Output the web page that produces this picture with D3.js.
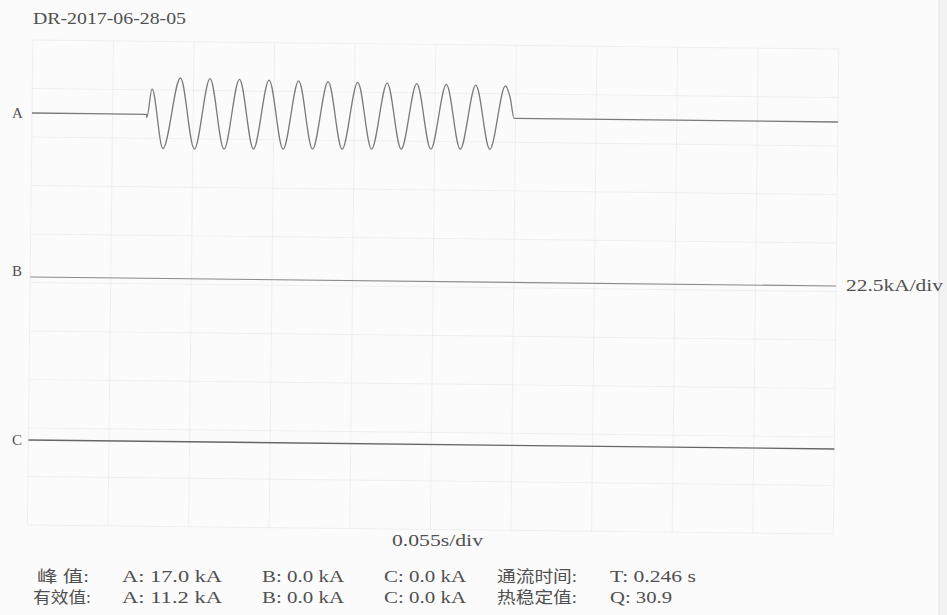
<!DOCTYPE html>
<html>
<head>
<meta charset="utf-8">
<script src="https://cdn.jsdelivr.net/npm/d3@7"></script>
<style>
  html, body { margin: 0; padding: 0; background: #fbfbfb; }
  svg { display: block; }
  text { fill: #505050; font-family: "Liberation Serif", "Noto Sans CJK SC", serif; }
</style>
</head>
<body>
<svg id="chart" width="947" height="615"></svg>
<script>
// Record header
const recordId = "DR-2017-06-28-05";

// Scale settings of the recorder
const secPerDiv = 0.055;
const kAPerDiv = 22.5;
const timeDivs = 10;
const ampDivs = 10;

// Channels
const channels = ["A", "B", "C"];

// Phase A current (s, kA): flat, then about 12 cycles of 50 Hz, then flat
const waveATime = [
  0.0000, 0.0781, 0.0784, 0.0817, 0.0896,
  0.1010, 0.1111, 0.1212, 0.1313, 0.1413, 0.1514, 0.1615, 0.1716,
  0.1817, 0.1917, 0.2018, 0.2119, 0.2220, 0.2320, 0.2421, 0.2522,
  0.2623, 0.2724, 0.2825, 0.2925, 0.3026, 0.3127, 0.3228,
  0.3262, 0.3290, 0.5500
];
const waveAValue = [
  0.0, 0.0, -1.5, 11.8, -15.8,
  17.0, -15.9, 16.9, -15.8, 16.7, -15.6, 16.5, -15.5,
  16.3, -15.3, 16.1, -15.2, 15.9, -15.0, 15.7, -14.9,
  15.6, -14.7, 15.4, -14.6, 15.2, -14.5, 15.0,
  9.5, 0.0, 0.0
];
// Phases B and C carry no current
const waveBTime = [0.0000, 0.5500];
const waveBValue = [0.0, 0.0];
const waveCTime = [0.0000, 0.5500];
const waveCValue = [0.0, 0.0];

// Summary values
const peakLabel = "峰 值:";
const rmsLabel = "有效值:";
const peakValues = [17.0, 0.0, 0.0];
const rmsValues = [11.2, 0.0, 0.0];
const flowLabel = "通流时间:";
const flowTime = 0.246;
const thermalLabel = "热稳定值:";
const thermalQ = 30.9;

const svg = d3.select("#chart");

// Plot frame
const plotLeft = 32, plotRight = 838, plotTop = 40, plotBottom = 525;
const x = d3.scaleLinear().domain([0, secPerDiv * timeDivs]).range([plotLeft, plotRight]);
const divH = (plotBottom - plotTop) / ampDivs;
const baselines = { A: 113, B: 277, C: 440 };
const yFor = ch => d3.scaleLinear().domain([0, kAPerDiv]).range([baselines[ch], baselines[ch] - divH]);

// page edge of the printout
svg.append("rect").attr("x", 939).attr("y", 0).attr("width", 8).attr("height", 615).attr("fill", "#f2f2f2");
svg.append("line").attr("x1", 939).attr("x2", 939).attr("y1", 0).attr("y2", 615)
  .attr("stroke", "#e0e0e0").attr("stroke-width", 1);

// the printed trace area sits slightly askew
const plot = svg.append("g").attr("transform", `rotate(0.64, ${plotLeft}, ${baselines.A})`);

// grid (printed very faintly)
const grid = plot.append("g").attr("stroke", "#efefef").attr("stroke-width", 1);
grid.selectAll("line.v").data(d3.range(timeDivs + 1)).join("line")
  .attr("class", "v")
  .attr("x1", i => x(i * secPerDiv)).attr("x2", i => x(i * secPerDiv))
  .attr("y1", plotTop).attr("y2", plotBottom);
grid.selectAll("line.h").data(d3.range(ampDivs + 1)).join("line")
  .attr("class", "h")
  .attr("x1", plotLeft).attr("x2", plotRight)
  .attr("y1", i => plotTop + i * divH).attr("y2", i => plotTop + i * divH);

// traces
const traces = [
  { ch: "A", t: waveATime, v: waveAValue, color: "#7a7a7a", w: 1.3 },
  { ch: "B", t: waveBTime, v: waveBValue, color: "#8a8a8a", w: 1.1 },
  { ch: "C", t: waveCTime, v: waveCValue, color: "#666666", w: 1.3 }
];
traces.forEach(tr => {
  const y = yFor(tr.ch);
  const pts = tr.t.map((t, i) => [t, tr.v[i]]);
  const line = d3.line().x(d => x(d[0])).y(d => y(d[1])).curve(d3.curveMonotoneX);
  plot.append("path").datum(pts)
    .attr("d", line)
    .attr("fill", "none")
    .attr("stroke", tr.color)
    .attr("stroke-width", tr.w)
    .attr("stroke-linejoin", "round");
});

// channel labels
const chLabelY = { A: 118, B: 276, C: 445 };
svg.selectAll("text.ch").data(channels).join("text")
  .attr("class", "ch")
  .attr("x", 12).attr("y", d => chLabelY[d])
  .attr("font-size", 15)
  .text(d => d);

// title
svg.append("text").attr("x", 33).attr("y", 24).attr("font-size", 17)
  .attr("textLength", 153).attr("lengthAdjust", "spacingAndGlyphs")
  .text(recordId);

// vertical scale
svg.append("text").attr("x", 846).attr("y", 291).attr("font-size", 16)
  .attr("textLength", 97).attr("lengthAdjust", "spacingAndGlyphs")
  .text(`${kAPerDiv.toFixed(1)}kA/div`);

// horizontal scale
svg.append("text").attr("x", 392).attr("y", 546).attr("font-size", 16)
  .attr("textLength", 91).attr("lengthAdjust", "spacingAndGlyphs")
  .text(`${secPerDiv.toFixed(3)}s/div`);

// summary table
const rowY = [582, 603];
const put = (txt, xPos, yPos, len) => svg.append("text")
  .attr("x", xPos).attr("y", yPos).attr("font-size", 16)
  .attr("textLength", len).attr("lengthAdjust", "spacingAndGlyphs")
  .text(txt);

put(peakLabel, 37, rowY[0], 52);
put(rmsLabel, 33, rowY[1], 58);
const colX = [122, 262, 384];
const colLen = [100, 82, 87];
channels.forEach((ch, i) => {
  put(`${ch}: ${peakValues[i].toFixed(1)} kA`, colX[i], rowY[0], peakValues[i] >= 10 ? colLen[0] : colLen[1]);
  put(`${ch}: ${rmsValues[i].toFixed(1)} kA`, colX[i], rowY[1], rmsValues[i] >= 10 ? colLen[0] : colLen[1]);
});
put(flowLabel, 497, rowY[0], 80);
put(thermalLabel, 497, rowY[1], 80);
put(`T: ${flowTime.toFixed(3)} s`, 610, rowY[0], 86);
put(`Q: ${thermalQ.toFixed(1)}`, 610, rowY[1], 62);
</script>
</body>
</html>
